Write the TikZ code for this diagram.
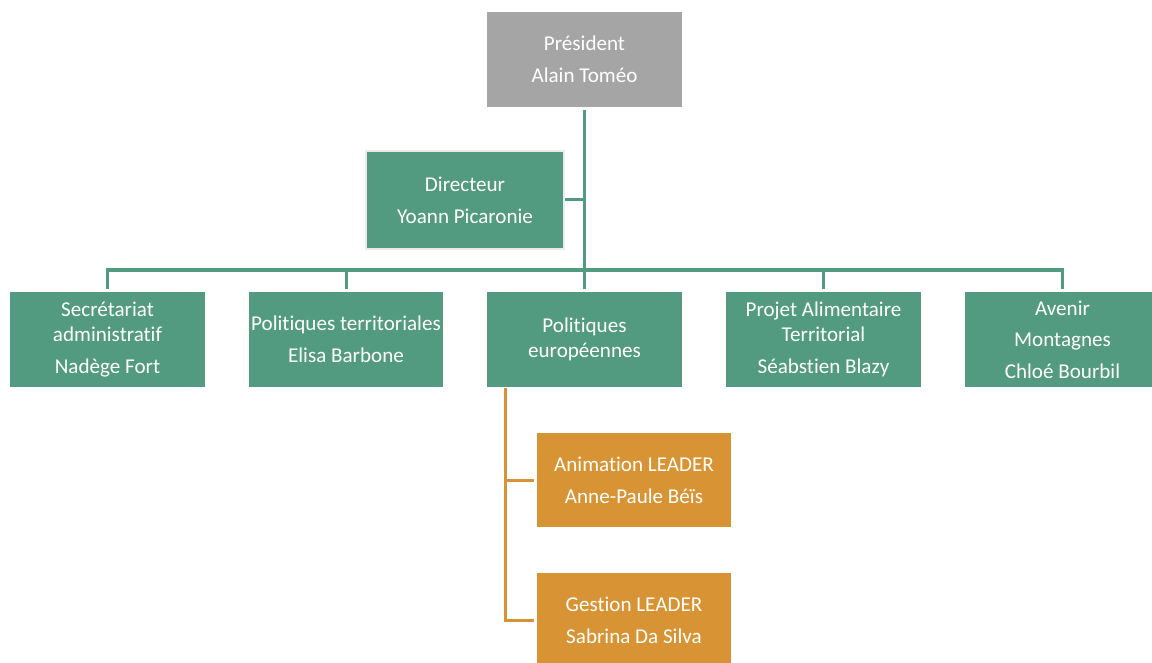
\documentclass[tikz,border=0pt]{standalone}
\usepackage{fontspec}
\setmainfont{Carlito}[Ligatures=NoCommon]
\definecolor{boxgreen}{RGB}{82,155,128}
\definecolor{boxgray}{RGB}{165,165,165}
\definecolor{boxorange}{RGB}{216,148,52}
\definecolor{dirborder}{RGB}{235,235,235}

\begin{document}
\begin{tikzpicture}[x=0.025cm,y=-0.025cm,
	box/.style={rectangle,draw=white,line width=0.075cm,minimum width=4.925cm,minimum height=2.425cm,inner sep=0pt,align=center,text=white,font=\fontsize{15}{18}\selectfont},
	greenbox/.style={box,fill=boxgreen},
	orangebox/.style={box,fill=boxorange},
	link/.style={line width=0.075cm,color=boxgreen},
	sublink/.style={line width=0.075cm,color=boxorange}]
	\useasboundingbox (0,0) rectangle (1152,663);
	\clip (0,0) rectangle (1152,663);
	% boxes
	\node[box,fill=boxgray] (pres) at (584.5,59.5) {Président\\[4.5pt]Alain Toméo};
	\node[greenbox,draw=dirborder,line width=0.05cm,minimum width=4.95cm,minimum height=2.45cm] (dir) at (465,200) {Directeur\\[5pt]Yoann Picaronie};
	\node[greenbox] (sec) at (107.5,339.5) {Secrétariat\\administratif\\[4.5pt]Nadège Fort};
	\node[greenbox] (ter) at (346,339.5) {Politiques territoriales\\[4.5pt]Elisa Barbone};
	\node[greenbox] (eur) at (584.5,339.5) {Politiques\\européennes};
	\node[greenbox] (pat) at (823.5,339.5) {Projet Alimentaire\\Territorial\\[4.5pt]Séabstien Blazy};
	\node[greenbox] (ave) at (1062.5,339.5) {Avenir\\[4.5pt]Montagnes\\[4.5pt]Chloé Bourbil};
	\node[orangebox] (anim) at (634,480) {Animation LEADER\\[4.5pt]Anne-Paule Béïs};
	\node[orangebox] (gest) at (634,620.5) {Gestion LEADER\\[4.5pt]Sabrina Da Silva};
	% connectors
	\coordinate (bus) at (584.5,270);
	\coordinate (spine) at (505,388);
	\draw[link] (pres.south) -- (bus);
	\draw[link] (dir.east) -- (dir.east -| pres.south);
	\draw[link] (sec.north) |- (bus) -| (ave.north);
	\draw[link] (ter.north) -- (ter.north |- bus);
	\draw[link] (eur.north) -- (bus);
	\draw[link] (pat.north) -- (pat.north |- bus);
	\draw[sublink] (spine) |- (anim.west);
	\draw[sublink] (spine) |- (gest.west);
\end{tikzpicture}
\end{document}
